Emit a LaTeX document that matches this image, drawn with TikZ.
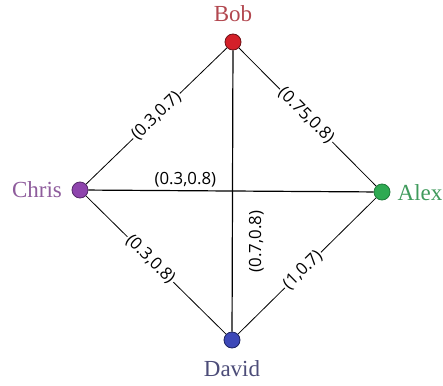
\documentclass[tikz,border=0pt]{standalone}
\usepackage{fontspec}
\newfontfamily\labfont{Open Sans}
\newfontfamily\namefont{Liberation Serif}
\definecolor{bobfill}{HTML}{D42029}
\definecolor{bobline}{HTML}{6E1116}
\definecolor{bobtext}{HTML}{B2474F}
\definecolor{chrisfill}{HTML}{8E44AD}
\definecolor{chrisline}{HTML}{55296A}
\definecolor{christext}{HTML}{8E5C9C}
\definecolor{alexfill}{HTML}{2EAA52}
\definecolor{alexline}{HTML}{1F7A3A}
\definecolor{alextext}{HTML}{3F9A5C}
\definecolor{davidfill}{HTML}{3D48B8}
\definecolor{davidline}{HTML}{1C2260}
\definecolor{davidtext}{HTML}{4C4C78}
\tikzset{
  vertex/.style={circle, minimum size=16pt, inner sep=0pt, line width=0.8pt},
  vname/.style={font=\namefont\fontsize{23}{26}\selectfont, inner sep=0pt},
  edgelab/.style={font=\labfont\fontsize{16.8}{19}\selectfont, fill=white, inner sep=1.5pt},
  thin edge/.style={draw=black, line width=0.8pt},
  thick edge/.style={draw=black, line width=1.2pt},
}
\begin{document}
\begin{tikzpicture}[x=1pt, y=-1pt]
\useasboundingbox (0,0) rectangle (443,385);
\node[vertex, fill=bobfill, draw=bobline] (bob) at (233,42) {};
\node[vertex, fill=chrisfill, draw=chrisline] (chris) at (80,190) {};
\node[vertex, fill=alexfill, draw=alexline] (alex) at (382,192) {};
\node[vertex, fill=davidfill, draw=davidline] (david) at (232,340) {};

\draw[thin edge] (bob) -- node[edgelab, sloped, pos=0.5] (l1) {(0.3,0.7)} (chris);
\draw[thin edge] (bob) -- node[edgelab, sloped, pos=0.49] (l2) {(0.75,0.8)} (alex);
\draw[thin edge] (chris) -- node[edgelab, sloped, pos=0.46] (l3) {(0.3,0.8)} (david);
\draw[thin edge] (alex) -- node[edgelab, sloped, pos=0.53] (l4) {(1,0.7)} (david);
\draw[thick edge] (chris) -- node[edgelab, fill=none, pos=0.34, above=1.5pt] (l5) {(0.3,0.8)} (alex);
\draw[thick edge] (bob) -- node[edgelab, fill=none, pos=0.68, xshift=24pt, rotate=90] (l6) {(0.7,0.8)} (david);

\node[vname, text=bobtext] (bobname) at (233,14) {Bob};
\node[vname, text=christext] (chrisname) at (37,190) {Chris};
\node[vname, text=alextext] (alexname) at (420,193) {Alex};
\node[vname, text=davidtext] (davidname) at (232,369) {David};
\end{tikzpicture}
\end{document}
